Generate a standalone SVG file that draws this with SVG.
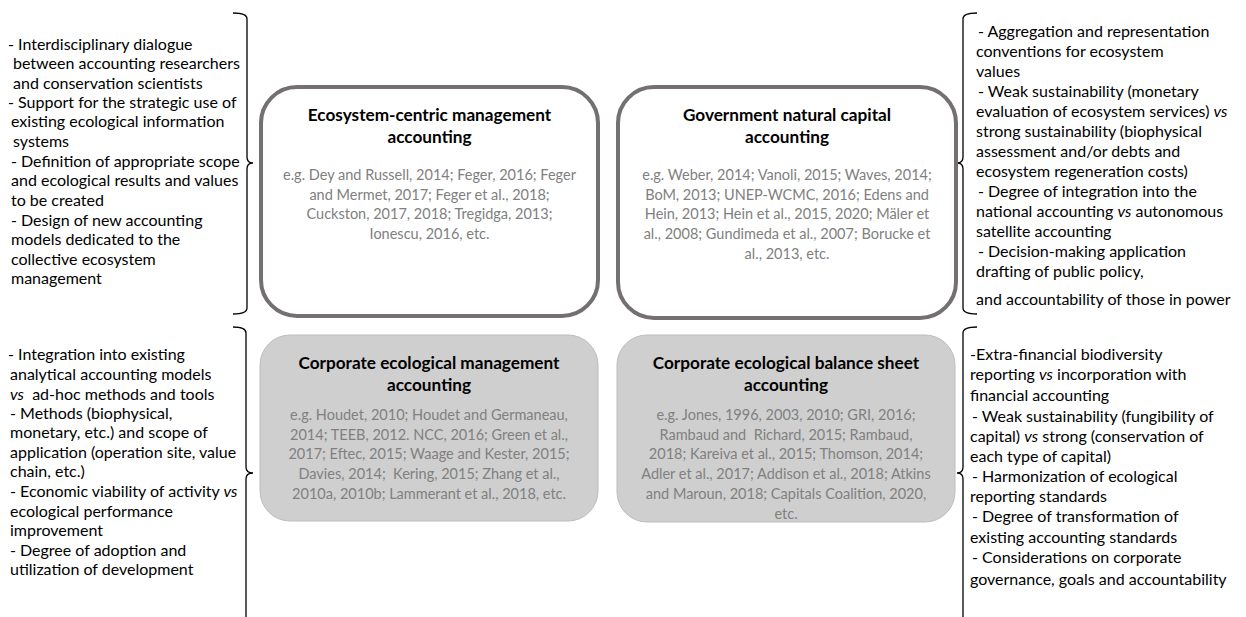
<svg xmlns="http://www.w3.org/2000/svg" width="1246" height="617" viewBox="0 0 1246 617">
<style>
.side{font-family:Lato,"Liberation Sans",sans-serif;font-size:16px;fill:#000}
.ttl{font-family:Lato,"Liberation Sans",sans-serif;font-size:17.2px;font-weight:bold;fill:#000;text-anchor:middle}
.ref{font-family:Lato,"Liberation Sans",sans-serif;font-size:14.5px;fill:#808080;text-anchor:middle}
.wbox{fill:#fff;stroke:#747070;stroke-width:4}
.gbox{fill:#cfcfcf;stroke:#bdbdbd;stroke-width:1}
.br{fill:none;stroke:#000;stroke-width:1.3}
</style>
<rect width="1246" height="617" fill="#fff"/>
<g id="connectors">
<path class="br" d="M233,13 Q247,13 247,19 L247,157 Q247,163 253,163 Q247,163 247,169 L247,308 Q247,314 233,314"/>
<path class="br" d="M233,327 Q246,327 246,333 L246,467 Q246,473 253,473 Q246,473 246,479 L246,617"/>
<path class="br" d="M977,13 Q963,13 963,19 L963,157 Q963,163 957,163 Q963,163 963,169 L963,308 Q963,314 977,314"/>
<path class="br" d="M977,327 Q963,327 963,333 L963,467 Q963,473 957,473 Q963,473 963,479 L963,617"/>
</g>
<g id="node-ecosystem-centric">
<rect class="wbox" x="261" y="87" width="337" height="229" rx="36"/>
<text class="ttl" x="429.5" y="121">Ecosystem-centric management</text>
<text class="ttl" x="429.5" y="143">accounting</text>
<text class="ref" x="429.5" y="180">e.g. Dey and Russell, 2014; Feger, 2016; Feger</text>
<text class="ref" x="429.5" y="200">and Mermet, 2017; Feger et al., 2018;</text>
<text class="ref" x="429.5" y="219">Cuckston, 2017, 2018; Tregidga, 2013;</text>
<text class="ref" x="429.5" y="239">Ionescu, 2016, etc.</text>
</g>
<g id="node-government">
<rect class="wbox" x="618" y="87" width="338" height="231" rx="36"/>
<text class="ttl" x="787" y="121">Government natural capital</text>
<text class="ttl" x="787" y="143">accounting</text>
<text class="ref" x="787" y="180">e.g. Weber, 2014; Vanoli, 2015; Waves, 2014;</text>
<text class="ref" x="787" y="200">BoM, 2013; UNEP-WCMC, 2016; Edens and</text>
<text class="ref" x="787" y="219">Hein, 2013; Hein et al., 2015, 2020; Mäler et</text>
<text class="ref" x="787" y="239">al., 2008; Gundimeda et al., 2007; Borucke et</text>
<text class="ref" x="787" y="259">al., 2013, etc.</text>
</g>
<g id="node-corporate-management">
<rect class="gbox" x="260" y="335" width="338" height="186" rx="30"/>
<text class="ttl" x="429" y="369">Corporate ecological management</text>
<text class="ttl" x="429" y="391">accounting</text>
<text class="ref" x="429" y="420">e.g. Houdet, 2010; Houdet and Germaneau,</text>
<text class="ref" x="429" y="440">2014; TEEB, 2012. NCC, 2016; Green et al.,</text>
<text class="ref" x="429" y="459">2017; Eftec, 2015; Waage and Kester, 2015;</text>
<text class="ref" x="429" y="479" xml:space="preserve">Davies, 2014;  Kering, 2015; Zhang et al.,</text>
<text class="ref" x="429" y="499">2010a, 2010b; Lammerant et al., 2018, etc.</text>
</g>
<g id="node-corporate-balance">
<rect class="gbox" x="617" y="335" width="338" height="187" rx="30"/>
<text class="ttl" x="786" y="369">Corporate ecological balance sheet</text>
<text class="ttl" x="786" y="391">accounting</text>
<text class="ref" x="786" y="420">e.g. Jones, 1996, 2003, 2010; GRI, 2016;</text>
<text class="ref" x="786" y="440" xml:space="preserve">Rambaud and  Richard, 2015; Rambaud,</text>
<text class="ref" x="786" y="459">2018; Kareiva et al., 2015; Thomson, 2014;</text>
<text class="ref" x="786" y="479">Adler et al., 2017; Addison et al., 2018; Atkins</text>
<text class="ref" x="786" y="499">and Maroun, 2018; Capitals Coalition, 2020,</text>
<text class="ref" x="786" y="519">etc.</text>
</g>
<g id="notes-top-left" class="side">
<text x="8" y="50">- Interdisciplinary dialogue</text>
<text x="13" y="69">between accounting researchers</text>
<text x="13" y="89">and conservation scientists</text>
<text x="8" y="108">- Support for the strategic use of</text>
<text x="11" y="127">existing ecological information</text>
<text x="13" y="147">systems</text>
<text x="11" y="167">- Definition of appropriate scope</text>
<text x="11" y="186">and ecological results and values</text>
<text x="11" y="206">to be created</text>
<text x="11" y="226">- Design of new accounting</text>
<text x="11" y="245">models dedicated to the</text>
<text x="11" y="265">collective ecosystem</text>
<text x="11" y="284">management</text>
</g>
<g id="notes-bottom-left" class="side">
<text x="8" y="360">- Integration into existing</text>
<text x="10" y="380">analytical accounting models</text>
<text x="10" y="400" xml:space="preserve"><tspan font-style="italic">vs</tspan>  ad-hoc methods and tools</text>
<text x="10" y="419">- Methods (biophysical,</text>
<text x="10" y="438">monetary, etc.) and scope of</text>
<text x="10" y="458">application (operation site, value</text>
<text x="10" y="477">chain, etc.)</text>
<text x="10" y="497">- Economic viability of activity <tspan font-style="italic">vs</tspan></text>
<text x="10" y="517">ecological performance</text>
<text x="10" y="536">improvement</text>
<text x="10" y="556">- Degree of adoption and</text>
<text x="10" y="575">utilization of development</text>
</g>
<g id="notes-top-right" class="side">
<text x="978" y="37">- Aggregation and representation</text>
<text x="976" y="57">conventions for ecosystem</text>
<text x="976" y="77">values</text>
<text x="978" y="97">- Weak sustainability (monetary</text>
<text x="976" y="117">evaluation of ecosystem services) <tspan font-style="italic">vs</tspan></text>
<text x="976" y="137">strong sustainability (biophysical</text>
<text x="976" y="157">assessment and/or debts and</text>
<text x="976" y="177">ecosystem regeneration costs)</text>
<text x="978" y="197">- Degree of integration into the</text>
<text x="976" y="217">national accounting <tspan font-style="italic">vs</tspan> autonomous</text>
<text x="976" y="237">satellite accounting</text>
<text x="978" y="257">- Decision-making application</text>
<text x="976" y="277">drafting of public policy,</text>
<text x="976" y="305">and accountability of those in power</text>
</g>
<g id="notes-bottom-right" class="side">
<text x="970" y="360">-Extra-financial biodiversity</text>
<text x="970" y="380">reporting <tspan font-style="italic">vs</tspan> incorporation with</text>
<text x="970" y="401">financial accounting</text>
<text x="972" y="422">- Weak sustainability (fungibility of</text>
<text x="970" y="442">capital) <tspan font-style="italic">vs</tspan> strong (conservation of</text>
<text x="970" y="462">each type of capital)</text>
<text x="972" y="482">- Harmonization of ecological</text>
<text x="970" y="502">reporting standards</text>
<text x="972" y="522">- Degree of transformation of</text>
<text x="970" y="543">existing accounting standards</text>
<text x="972" y="563">- Considerations on corporate</text>
<text x="970" y="585">governance, goals and accountability</text>
</g>
</svg>
